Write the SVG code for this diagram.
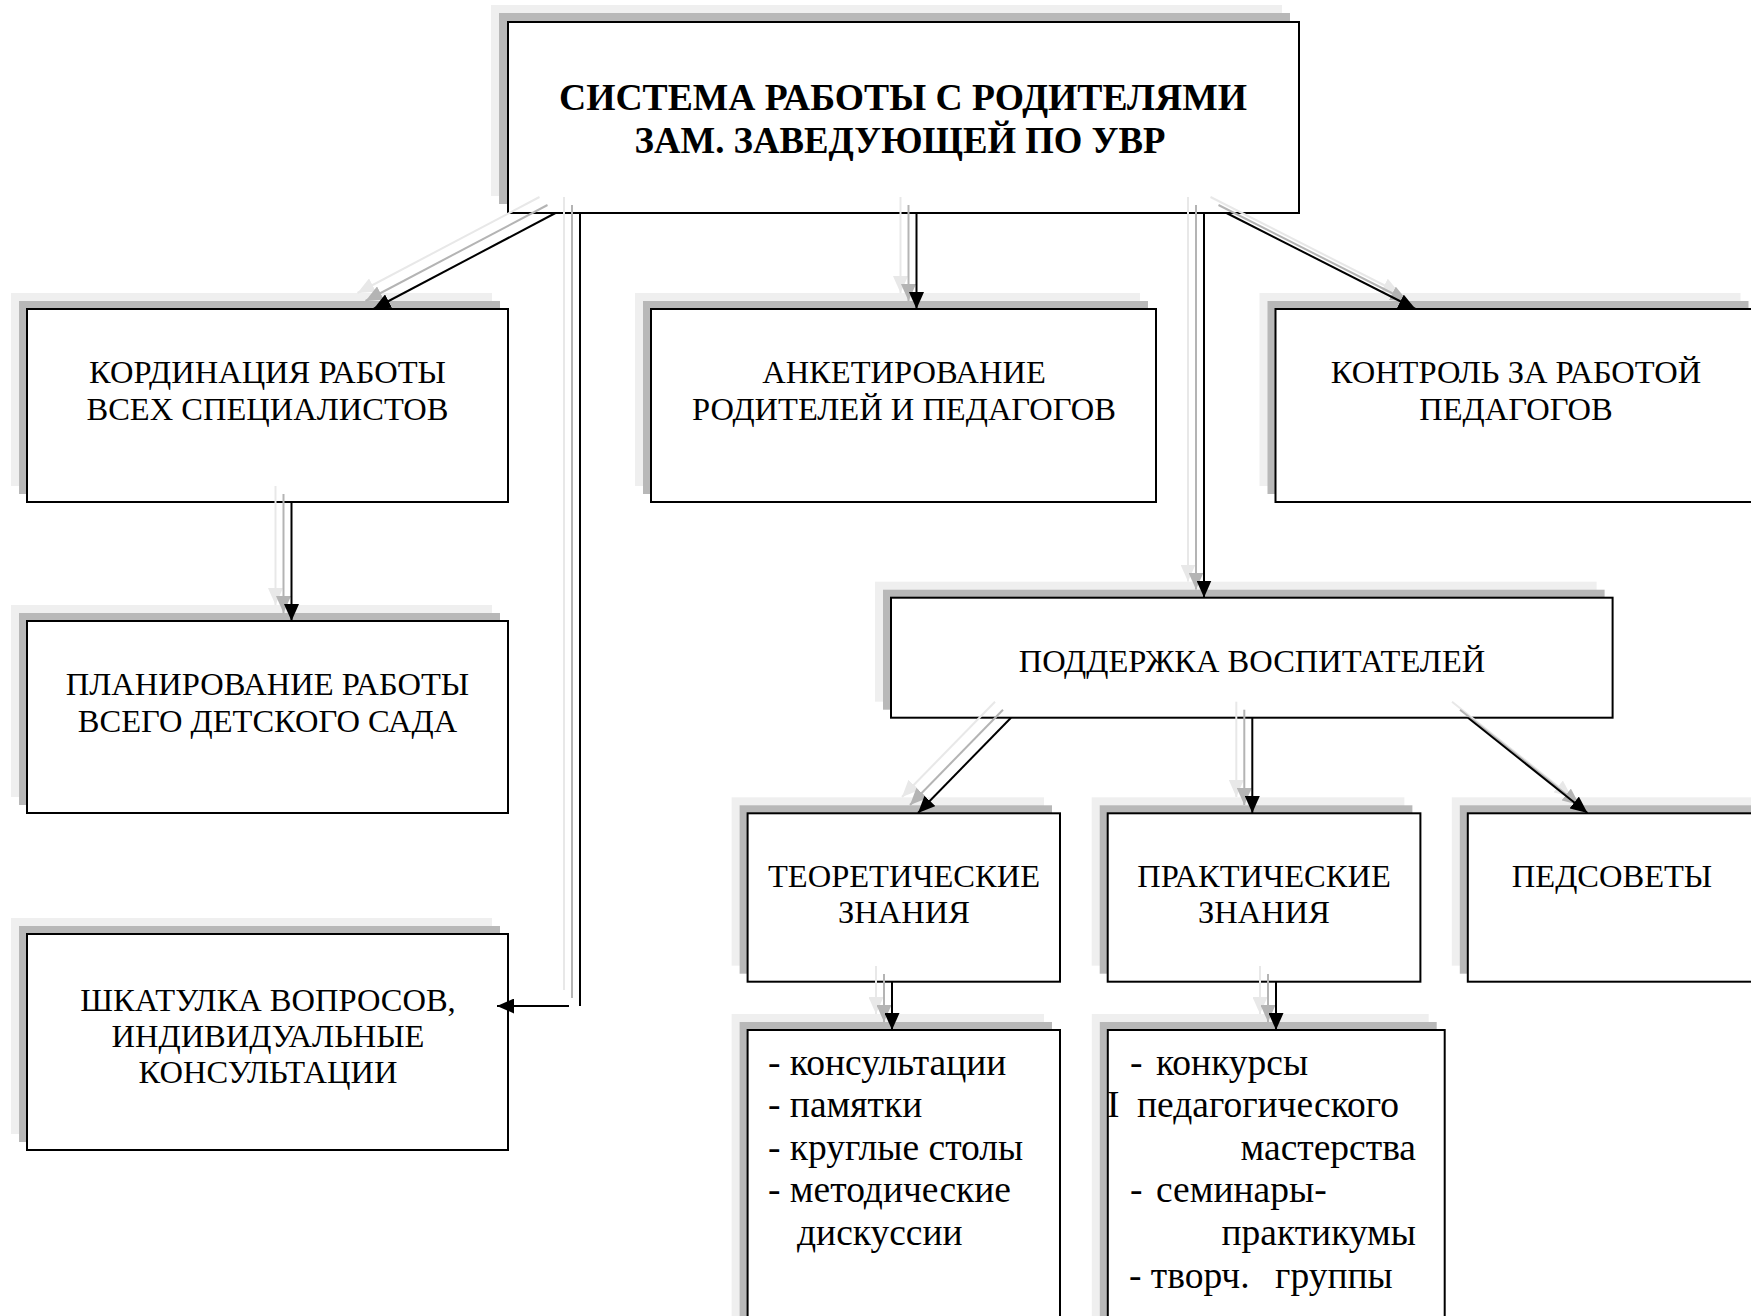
<svg xmlns="http://www.w3.org/2000/svg" width="1751" height="1316" viewBox="0 0 1751 1316">
<defs>
<style>
.lt{fill:#efefef}
.gr{fill:#b8b8b8}
.bx{fill:#ffffff;stroke:#000000;stroke-width:2}
.t{font-family:"Liberation Serif","Times New Roman",serif;font-size:32.5px;fill:#000000;text-anchor:middle}
.tb{font-family:"Liberation Serif","Times New Roman",serif;font-size:37px;font-weight:bold;fill:#000000;text-anchor:middle}
.ls{font-family:"Liberation Serif","Times New Roman",serif;font-size:37.5px;fill:#000000}
.ck{fill:none;stroke:#000000;stroke-width:2;marker-end:url(#ak)}
.cg{fill:none;stroke:#b4b4b4;stroke-width:2;marker-end:url(#ag)}
.cl{fill:none;stroke:#e8e8e8;stroke-width:2;marker-end:url(#al)}
.nk{fill:none;stroke:#000000;stroke-width:2}
.ng{fill:none;stroke:#b4b4b4;stroke-width:2}
.nl{fill:none;stroke:#e8e8e8;stroke-width:2}
</style>
<marker id="ak" markerUnits="userSpaceOnUse" markerWidth="17" markerHeight="15" refX="17" refY="7.5" orient="auto"><path d="M0,0 L17,7.5 L0,15 Z" fill="#000000"/></marker>
<marker id="ag" markerUnits="userSpaceOnUse" markerWidth="17" markerHeight="15" refX="17" refY="7.5" orient="auto"><path d="M0,0 L17,7.5 L0,15 Z" fill="#b4b4b4"/></marker>
<marker id="al" markerUnits="userSpaceOnUse" markerWidth="17" markerHeight="15" refX="17" refY="7.5" orient="auto"><path d="M0,0 L17,7.5 L0,15 Z" fill="#e8e8e8"/></marker>
</defs>
<rect width="1751" height="1316" fill="#ffffff"/>

<g id="node-top">
<rect class="lt" x="491" y="5" width="791" height="191"/>
<rect class="gr" x="499" y="13" width="791" height="191"/>
<rect class="bx" x="508" y="22" width="791" height="191"/>
<text class="tb" x="903" y="110" textLength="688" lengthAdjust="spacingAndGlyphs">СИСТЕМА РАБОТЫ С РОДИТЕЛЯМИ</text>
<text class="tb" x="900" y="153" textLength="531" lengthAdjust="spacingAndGlyphs">ЗАМ. ЗАВЕДУЮЩЕЙ ПО УВР</text>
</g>

<g id="node-kord">
<rect class="lt" x="11" y="293" width="481" height="193"/>
<rect class="gr" x="19" y="301" width="481" height="193"/>
<rect class="bx" x="27" y="309" width="481" height="193"/>
<text class="t" x="267.5" y="383">КОРДИНАЦИЯ РАБОТЫ</text>
<text class="t" x="267.5" y="420">ВСЕХ СПЕЦИАЛИСТОВ</text>
</g>

<g id="node-plan">
<rect class="lt" x="11" y="605" width="481" height="192"/>
<rect class="gr" x="19" y="613" width="481" height="192"/>
<rect class="bx" x="27" y="621" width="481" height="192"/>
<text class="t" x="267.5" y="695">ПЛАНИРОВАНИЕ РАБОТЫ</text>
<text class="t" x="267.5" y="732">ВСЕГО ДЕТСКОГО САДА</text>
</g>

<g id="node-shkat">
<rect class="lt" x="11" y="918" width="481" height="216"/>
<rect class="gr" x="19" y="926" width="481" height="216"/>
<rect class="bx" x="27" y="934" width="481" height="216"/>
<text class="t" x="268" y="1011">ШКАТУЛКА ВОПРОСОВ,</text>
<text class="t" x="268" y="1047">ИНДИВИДУАЛЬНЫЕ</text>
<text class="t" x="268" y="1083">КОНСУЛЬТАЦИИ</text>
</g>

<g id="node-anket">
<rect class="lt" x="635" y="293" width="505" height="193"/>
<rect class="gr" x="643" y="301" width="505" height="193"/>
<rect class="bx" x="651" y="309" width="505" height="193"/>
<text class="t" x="904" y="383">АНКЕТИРОВАНИЕ</text>
<text class="t" x="904" y="420">РОДИТЕЛЕЙ И ПЕДАГОГОВ</text>
</g>

<g id="node-kontrol">
<rect class="lt" x="1259.5" y="293" width="481" height="193"/>
<rect class="gr" x="1267.5" y="301" width="481" height="193"/>
<rect class="bx" x="1275.5" y="309" width="481" height="193"/>
<text class="t" x="1516" y="383">КОНТРОЛЬ ЗА РАБОТОЙ</text>
<text class="t" x="1516" y="420">ПЕДАГОГОВ</text>
</g>

<g id="node-podd">
<rect class="lt" x="875" y="581.7" width="721.6" height="120"/>
<rect class="gr" x="883" y="589.7" width="721.6" height="120"/>
<rect class="bx" x="891" y="597.7" width="721.6" height="120"/>
<text class="t" x="1252" y="672">ПОДДЕРЖКА ВОСПИТАТЕЛЕЙ</text>
</g>

<g id="node-teor">
<rect class="lt" x="731.6" y="797.3" width="312.4" height="168.4"/>
<rect class="gr" x="739.6" y="805.3" width="312.4" height="168.4"/>
<rect class="bx" x="747.6" y="813.3" width="312.4" height="168.4"/>
<text class="t" x="904" y="887">ТЕОРЕТИЧЕСКИЕ</text>
<text class="t" x="904" y="923">ЗНАНИЯ</text>
</g>

<g id="node-prakt">
<rect class="lt" x="1091.7" y="797.3" width="312.7" height="168.4"/>
<rect class="gr" x="1099.7" y="805.3" width="312.7" height="168.4"/>
<rect class="bx" x="1107.7" y="813.3" width="312.7" height="168.4"/>
<text class="t" x="1264" y="887">ПРАКТИЧЕСКИЕ</text>
<text class="t" x="1264" y="923">ЗНАНИЯ</text>
</g>

<g id="node-pedsov">
<rect class="lt" x="1451.8" y="797.3" width="312.4" height="168.4"/>
<rect class="gr" x="1459.8" y="805.3" width="312.4" height="168.4"/>
<rect class="bx" x="1467.8" y="813.3" width="312.4" height="168.4"/>
<text class="t" x="1612" y="887">ПЕДСОВЕТЫ</text>
</g>

<g id="node-list1">
<rect class="lt" x="731.6" y="1014" width="312.4" height="330"/>
<rect class="gr" x="739.6" y="1022" width="312.4" height="330"/>
<rect class="bx" x="747.6" y="1030" width="312.4" height="330"/>
<text class="ls" x="768" y="1075">- консультации</text>
<text class="ls" x="768" y="1117">- памятки</text>
<text class="ls" x="768" y="1160">- круглые столы</text>
<text class="ls" x="768" y="1202">- методические</text>
<text class="ls" x="797" y="1245">дискуссии</text>
</g>

<g id="node-list2">
<rect class="lt" x="1091.8" y="1014" width="336.9" height="330"/>
<rect class="gr" x="1099.8" y="1022" width="336.9" height="330"/>
<rect class="bx" x="1107.8" y="1030" width="336.9" height="330"/>
<text class="ls" x="1130" y="1075">-</text>
<text class="ls" x="1156" y="1075">конкурсы</text>
<text class="ls" x="1107" y="1117">I</text>
<text class="ls" x="1137" y="1117">педагогического</text>
<text class="ls" x="1416" y="1160" text-anchor="end">мастерства</text>
<text class="ls" x="1130" y="1202">-</text>
<text class="ls" x="1156" y="1202">семинары-</text>
<text class="ls" x="1416" y="1245" text-anchor="end">практикумы</text>
<text class="ls" x="1129" y="1288">- творч.</text>
<text class="ls" x="1275" y="1288">группы</text>
</g>

<g id="connectors">
<line class="cl" x1="539.5" y1="197" x2="357.5" y2="293"/>
<line class="cg" x1="547.5" y1="205" x2="365.5" y2="301"/>
<line class="ck" x1="555.5" y1="213" x2="373.5" y2="309"/>

<line class="cl" x1="900.5" y1="197" x2="900.5" y2="293"/>
<line class="cg" x1="908.5" y1="205" x2="908.5" y2="301"/>
<line class="ck" x1="916.5" y1="213" x2="916.5" y2="309"/>

<line class="nl" x1="564" y1="197" x2="564" y2="990"/>
<line class="ng" x1="572" y1="205" x2="572" y2="998"/>
<line class="nk" x1="580" y1="213" x2="580" y2="1006"/>
<line class="ck" x1="569" y1="1006" x2="497" y2="1006"/>

<line class="cl" x1="1188" y1="197" x2="1188" y2="581.5"/>
<line class="cg" x1="1196" y1="205" x2="1196" y2="589.5"/>
<line class="ck" x1="1204" y1="213" x2="1204" y2="597.5"/>

<line class="cl" x1="1210.5" y1="197" x2="1399.5" y2="293"/>
<line class="cg" x1="1218.5" y1="205" x2="1407.5" y2="301"/>
<line class="ck" x1="1226.5" y1="213" x2="1415.5" y2="309"/>

<line class="cl" x1="275.5" y1="486" x2="275.5" y2="605"/>
<line class="cg" x1="283.5" y1="494" x2="283.5" y2="613"/>
<line class="ck" x1="291.5" y1="502" x2="291.5" y2="621"/>

<line class="cl" x1="995" y1="701.7" x2="902" y2="797"/>
<line class="cg" x1="1003" y1="709.7" x2="910" y2="805"/>
<line class="ck" x1="1011" y1="717.7" x2="918" y2="813"/>

<line class="cl" x1="1236.3" y1="701.7" x2="1236.3" y2="797"/>
<line class="cg" x1="1244.3" y1="709.7" x2="1244.3" y2="805"/>
<line class="ck" x1="1252.3" y1="717.7" x2="1252.3" y2="813"/>

<line class="cl" x1="1452" y1="701.7" x2="1571.5" y2="797"/>
<line class="cg" x1="1460" y1="709.7" x2="1579.5" y2="805"/>
<line class="ck" x1="1468" y1="717.7" x2="1587.5" y2="813"/>

<line class="cl" x1="876" y1="966" x2="876" y2="1014"/>
<line class="cg" x1="884" y1="974" x2="884" y2="1022"/>
<line class="ck" x1="892" y1="982" x2="892" y2="1030"/>

<line class="cl" x1="1260" y1="966" x2="1260" y2="1014"/>
<line class="cg" x1="1268" y1="974" x2="1268" y2="1022"/>
<line class="ck" x1="1276" y1="982" x2="1276" y2="1030"/>
</g>
</svg>
